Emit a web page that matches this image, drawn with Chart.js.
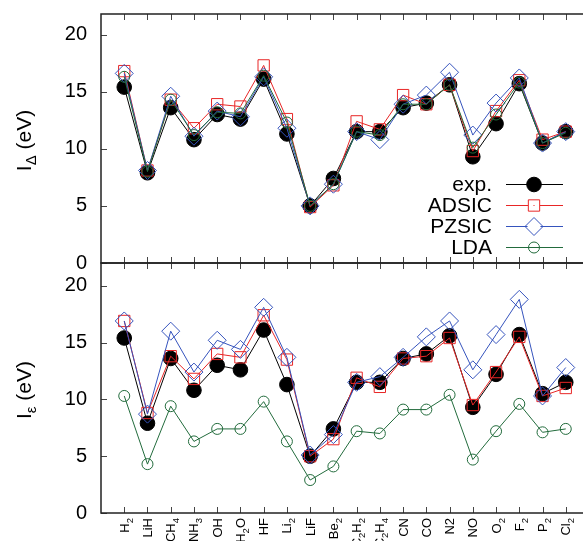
<!DOCTYPE html>
<html><head><meta charset="utf-8">
<script src="https://cdn.jsdelivr.net/npm/chart.js@4"></script>
<style>
html,body{margin:0;padding:0;background:#fff;overflow:hidden}
#wrap{position:relative;width:583px;height:541px;overflow:hidden;background:#fff}
canvas{position:absolute;left:0;top:0}
</style></head><body>
<div id="wrap"><canvas id="cTop" width="600" height="290"></canvas><canvas id="cBot" width="600" height="541"></canvas></div>
<script>
// ---------- data ----------
const categories = ['H₂','LiH','CH₄','NH₃','OH','H₂O','HF','Li₂','LiF','Be₂','C₂H₂','C₂H₄','CN','CO','N2','NO','O₂','F₂','P₂','Cl₂'];
const yTicks = [0, 5, 10, 15, 20];
const seriesNames = ['exp.', 'ADSIC', 'PZSIC', 'LDA'];
const expIP      = [15.4, 7.9, 13.6, 10.8, 13.0, 12.6, 16.1, 11.3, 5.0, 7.4, 11.5, 11.5, 13.6, 14.0, 15.6, 9.3, 12.2, 15.7, 10.5, 11.5];
const adsicDelta = [16.8, 8.1, 14.3, 11.8, 13.9, 13.7, 17.3, 12.6, 4.9, 6.8, 12.4, 11.7, 14.7, 13.9, 15.6, 9.8, 13.3, 16.0, 10.8, 11.5];
const pzsicDelta = [16.6, 8.1, 14.6, 11.1, 13.3, 12.8, 16.3, 11.8, 5.0, 6.9, 11.5, 10.8, 13.9, 14.7, 16.7, 11.2, 14.0, 16.2, 10.5, 11.5];
const ldaDelta   = [16.3, 8.0, 14.3, 11.2, 13.2, 13.1, 16.4, 12.3, 5.0, 6.9, 11.5, 11.2, 13.9, 13.9, 15.6, 10.1, 13.0, 15.8, 10.5, 11.4];
const adsicEps   = [16.9, 8.8, 13.8, 11.8, 14.0, 13.7, 17.4, 13.5, 5.0, 6.5, 11.9, 11.1, 13.6, 13.8, 15.4, 9.5, 12.4, 15.5, 10.3, 11.0];
const pzsicEps   = [16.9, 8.7, 16.0, 12.4, 15.2, 14.4, 18.1, 13.7, 5.1, 6.9, 11.5, 12.0, 13.7, 15.5, 16.9, 12.6, 15.7, 18.8, 10.3, 12.8];
const ldaEps     = [10.3, 4.3, 9.4, 6.3, 7.4, 7.4, 9.8, 6.3, 2.9, 4.1, 7.2, 7.0, 9.1, 9.1, 10.4, 4.7, 7.2, 9.6, 7.1, 7.4];

// ---------- styles ----------
const FONT = "'Liberation Sans', Arial, Helvetica, sans-serif";
const styles = [
  {color:'#000000', pointStyle:'circle',  radius:7.3, fill:'#000000'},
  {color:'#e82626', pointStyle:'rect',    radius:8,   fill:'rgba(0,0,0,0)'},
  {color:'#3553bd', pointStyle:'rectRot', radius:9,   fill:'rgba(0,0,0,0)'},
  {color:'#226b3c', pointStyle:'circle',  radius:5.5, fill:'rgba(0,0,0,0)'}
];

function ds(i, vals) {
  const s = styles[i];
  return {
    label: seriesNames[i],
    data: vals.map((v, k) => ({x: k, y: v})),
    borderColor: s.color, backgroundColor: s.fill, borderWidth: 1,
    pointStyle: s.pointStyle, pointRadius: s.radius, pointHoverRadius: s.radius,
    pointBorderColor: s.color, pointBackgroundColor: s.fill, pointBorderWidth: 1,
    tension: 0, fill: false, order: 4 - i, clip: false
  };
}

const SUBS = '₀₁₂₃₄₅₆₇₈₉';
function parseRich(str) {
  const parts = [];
  for (const ch of str) {
    const k = SUBS.indexOf(ch);
    const sub = k >= 0;
    const c = sub ? String(k) : ch;
    if (parts.length && parts[parts.length-1].sub === sub) parts[parts.length-1].t += c;
    else parts.push({t: c, sub});
  }
  return parts;
}

// frame & inward ticks
const framePlugin = {
  id: 'frame',
  afterDatasetsDraw(chart) {
    const {ctx, chartArea: a, scales: {x, y}} = chart;
    ctx.save();
    ctx.strokeStyle = '#444'; ctx.lineWidth = 1;
    ctx.beginPath();
    categories.forEach((c, i) => {
      const px = Math.round(x.getPixelForValue(i)) + 0.5;
      ctx.moveTo(px, a.bottom); ctx.lineTo(px, a.bottom - 6);
      ctx.moveTo(px, a.top); ctx.lineTo(px, a.top + 6);
    });
    yTicks.forEach(v => {
      const py = Math.round(y.getPixelForValue(v)) + 0.5;
      ctx.moveTo(a.left, py); ctx.lineTo(a.left + 6, py);
      ctx.moveTo(a.right, py); ctx.lineTo(a.right - 6, py);
    });
    ctx.stroke();
    ctx.strokeStyle = '#222'; ctx.lineWidth = 1.5;
    ctx.strokeRect(a.left, a.top, a.right - a.left, a.bottom - a.top);
    ctx.restore();
  }
};

function yTitlePlugin(subText) {
  return {
    id: 'ytitle',
    afterDraw(chart) {
      const {ctx, chartArea: a} = chart;
      const parts = [{t:'I', f:21, dy:0}, {t:subText, f:15, dy:5}, {t:' (eV)', f:21, dy:0}];
      ctx.save();
      let total = 0;
      parts.forEach(p => { ctx.font = p.f + 'px ' + FONT; p.w = ctx.measureText(p.t).width; total += p.w; });
      ctx.translate(31, (a.top + a.bottom) / 2 + 2);
      ctx.rotate(-Math.PI / 2);
      ctx.fillStyle = '#000'; ctx.textBaseline = 'alphabetic'; ctx.textAlign = 'left';
      let xx = -total / 2;
      parts.forEach(p => { ctx.font = p.f + 'px ' + FONT; ctx.fillText(p.t, xx, p.dy); xx += p.w; });
      ctx.restore();
    }
  };
}

const legendPlugin = {
  id: 'customLegend',
  afterDraw(chart) {
    const {ctx} = chart;
    const rows = [184, 205, 226, 247];
    ctx.save();
    ctx.font = '21px ' + FONT;
    ctx.textAlign = 'right'; ctx.textBaseline = 'middle';
    seriesNames.forEach((n, i) => {
      const yy = rows[i];
      const s = styles[i];
      ctx.fillStyle = '#000';
      ctx.fillText(n, 492, yy + 1);
      ctx.strokeStyle = s.color; ctx.lineWidth = 1;
      ctx.beginPath();
      if (s.pointStyle === 'rect' || s.pointStyle === 'rectRot') {
        const h = s.pointStyle === 'rect' ? 6 : 6.4;
        ctx.moveTo(506, yy + 0.5); ctx.lineTo(534 - h, yy + 0.5);
        ctx.moveTo(534 + h, yy + 0.5); ctx.lineTo(563, yy + 0.5);
      } else {
        ctx.moveTo(506, yy + 0.5); ctx.lineTo(563, yy + 0.5);
      }
      ctx.stroke();
      ctx.fillStyle = s.fill;
      Chart.helpers.drawPoint(ctx, {pointStyle: s.pointStyle, radius: s.radius, rotation: 0, borderWidth: 1}, 534, yy + 0.5);
      if (s.pointStyle === 'rect') { ctx.fillStyle = s.color; ctx.fillRect(533.5, yy, 1, 1); }
    });
    ctx.restore();
  }
};

const XF = 13, XS = 9.5, XOFF = 4;
const xLabelPlugin = {
  id: 'xlabels',
  afterDraw(chart) {
    const {ctx, scales: {x}} = chart;
    ctx.save();
    ctx.fillStyle = '#000'; ctx.textBaseline = 'alphabetic'; ctx.textAlign = 'left';
    categories.forEach((c, i) => {
      const parts = parseRich(c);
      let total = 0;
      parts.forEach(p => { ctx.font = (p.sub ? XS : XF) + 'px ' + FONT; p.w = ctx.measureText(p.t).width; total += p.w; });
      const px = x.getPixelForValue(i);
      ctx.save();
      ctx.translate(px + 4.5, 518);
      ctx.rotate(-Math.PI / 2);
      let xx = -total;
      parts.forEach(p => { ctx.font = (p.sub ? XS : XF) + 'px ' + FONT; ctx.fillText(p.t, xx, p.sub ? XOFF : 0); xx += p.w; });
      ctx.restore();
    });
    ctx.restore();
  }
};

function yScale(max) {
  return {
    type: 'linear', position: 'left', min: 0, max: max,
    grid: {display: false, drawTicks: false}, border: {display: false},
    ticks: {font: {family: FONT, size: 20}, color: '#000', padding: 14},
    afterBuildTicks: s => { s.ticks = yTicks.map(v => ({value: v})); },
    afterFit: s => { s.width = 101; s.paddingTop = 0; s.paddingBottom = 0; s.paddingLeft = 0; s.paddingRight = 0; }
  };
}

Chart.defaults.font.family = FONT;

new Chart(document.getElementById('cTop'), {
  type: 'line',
  data: {datasets: [ds(0, expIP), ds(1, adsicDelta), ds(2, pzsicDelta), ds(3, ldaDelta)]},
  options: {
    responsive: false, animation: false, events: [],
    layout: {padding: {left: 0, right: 11, top: 14, bottom: 27}},
    scales: {
      x: {type: 'linear', min: -1, max: 20, display: false},
      y: yScale(21.8)
    },
    plugins: {legend: {display: false}, tooltip: {enabled: false}}
  },
  plugins: [framePlugin, yTitlePlugin('Δ'), legendPlugin]
});

new Chart(document.getElementById('cBot'), {
  type: 'line',
  data: {datasets: [ds(0, expIP), ds(1, adsicEps), ds(2, pzsicEps), ds(3, ldaEps)]},
  options: {
    responsive: false, animation: false, events: [],
    layout: {padding: {left: 0, right: 11, top: 263, bottom: 0}},
    scales: {
      x: {type: 'linear', min: -1, max: 20, grid: {display: false, drawTicks: false}, border: {display: false},
          ticks: {display: false}, afterFit: s => { s.height = 28; }},
      y: yScale(22)
    },
    plugins: {legend: {display: false}, tooltip: {enabled: false}}
  },
  plugins: [framePlugin, yTitlePlugin('ε'), xLabelPlugin]
});
</script>
</body></html>
